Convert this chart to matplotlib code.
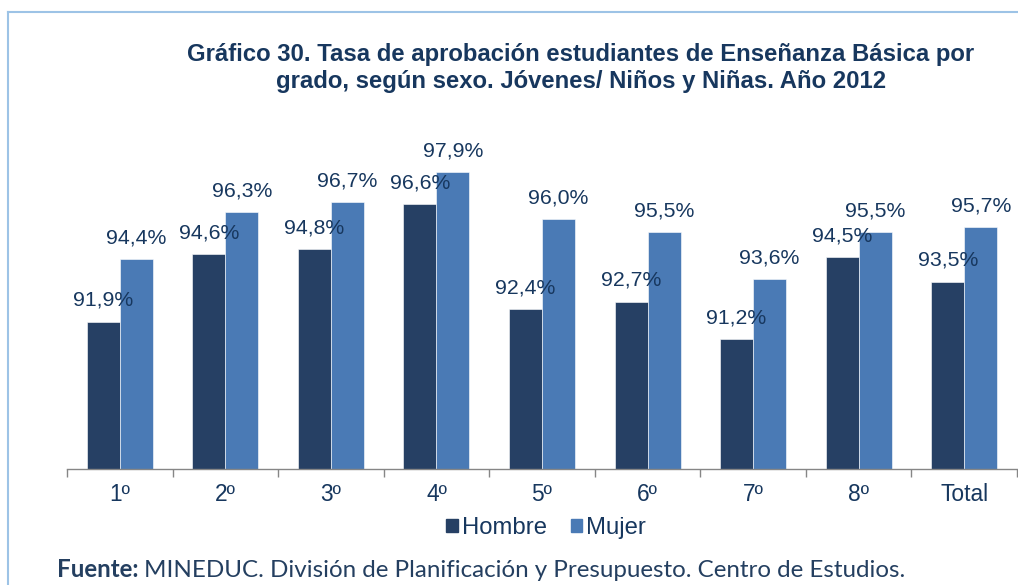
"""Tasa de aprobación Enseñanza Básica por grado y sexo, 2012."""

import matplotlib

matplotlib.use("Agg")

import matplotlib.pyplot as plt
import numpy as np
from matplotlib.lines import Line2D
from matplotlib.patches import Patch

# Data
GRADES = ["1º", "2º", "3º", "4º", "5º", "6º", "7º", "8º", "Total"]
HOMBRE = [91.9, 94.6, 94.8, 96.6, 92.4, 92.7, 91.2, 94.5, 93.5]
MUJER = [94.4, 96.3, 96.7, 97.9, 96.0, 95.5, 93.6, 95.5, 95.7]

TITLE_1 = "Gráfico 30. Tasa de aprobación estudiantes de Enseñanza Básica por"
TITLE_2 = "grado, según sexo. Jóvenes/ Niños y Niñas. Año 2012"

C_HOMBRE = "#264064"
C_MUJER = "#4A7AB5"
C_TEXT = "#17375E"
C_BORDER = "#9DC3E6"

W, H = 1018, 585


def pct(v: float) -> str:
    return f"{v:.1f}%".replace(".", ",")


fig = plt.figure(figsize=(W / 100, H / 100), dpi=100)
fig.patch.set_facecolor("white")

# light blue frame (top and left)
fig.add_artist(Line2D([7.5 / W, 1.0], [1 - 12.3 / H] * 2, color=C_BORDER, lw=1.5))
fig.add_artist(Line2D([7.5 / W] * 2, [0.0, 1 - 12.3 / H], color=C_BORDER, lw=1.5))

ax = fig.add_axes([67 / W, (H - 468.7) / H, 950 / W, 14 * 24.94 / H])
x = np.arange(len(GRADES))
bw = 0.3125
bars_h = ax.bar(x - bw / 2, HOMBRE, bw, bottom=0, color=C_HOMBRE, edgecolor="white", lw=0.4)
bars_m = ax.bar(x + bw / 2, MUJER, bw, bottom=0, color=C_MUJER, edgecolor="white", lw=0.4)
ax.set_ylim(86, 100)
ax.set_xlim(-0.5, len(GRADES) - 0.5)

for bars, vals in ((bars_h, HOMBRE), (bars_m, MUJER)):
    for b, v in zip(bars, vals):
        ax.annotate(pct(v), (b.get_x() + b.get_width() / 2, v), xytext=(0, 11.3),
                    textcoords="offset points", ha="center", va="baseline",
                    fontsize=15.3, color=C_TEXT, family="Liberation Sans")

for s in ("top", "right", "left"):
    ax.spines[s].set_visible(False)
ax.spines["bottom"].set_color("#868686")
ax.spines["bottom"].set_linewidth(1.0)
ax.set_yticks([])
ax.set_xticks(np.arange(len(GRADES) + 1) - 0.5)
ax.set_xticklabels([])
ax.set_xticks(x, minor=True)
ax.set_xticklabels(GRADES, minor=True, fontsize=16.4, color=C_TEXT, family="Liberation Sans")
ax.tick_params(axis="x", which="major", length=6, width=1, color="#868686", direction="out")
ax.tick_params(axis="x", which="minor", length=0, pad=10)

handles = [Patch(color=C_HOMBRE), Patch(color=C_MUJER)]
leg = fig.legend(handles, ["Hombre", "Mujer"], loc="center", bbox_to_anchor=(546 / W, 1 - 528 / H),
                 ncol=2, frameon=False, handlelength=0.5, handleheight=0.5, handletextpad=0.15,
                 columnspacing=1.0, prop={"family": "Liberation Sans", "size": 17.2})
for t in leg.get_texts():
    t.set_color(C_TEXT)

fig.text(581 / W, 1 - 61 / H, TITLE_1, ha="center", va="baseline", fontsize=17.2,
         fontweight="bold", color=C_TEXT, family="Liberation Sans")
fig.text(581 / W, 1 - 88 / H, TITLE_2, ha="center", va="baseline", fontsize=17.2,
         fontweight="bold", color=C_TEXT, family="Liberation Sans")

src = fig.text(57 / W, 1 - 577 / H, "Fuente:", ha="left", va="baseline", fontsize=17.4,
               fontweight="bold", color="#243F60", family="Lato")
fig.canvas.draw()
bb = src.get_window_extent()
fig.text(bb.x1 / W + 5 / W, 1 - 577 / H, "MINEDUC. División de Planificación y Presupuesto. Centro de Estudios.",
         ha="left", va="baseline", fontsize=17.4, color="#243F60", family="Lato")

fig.savefig("out.png", dpi=100)
